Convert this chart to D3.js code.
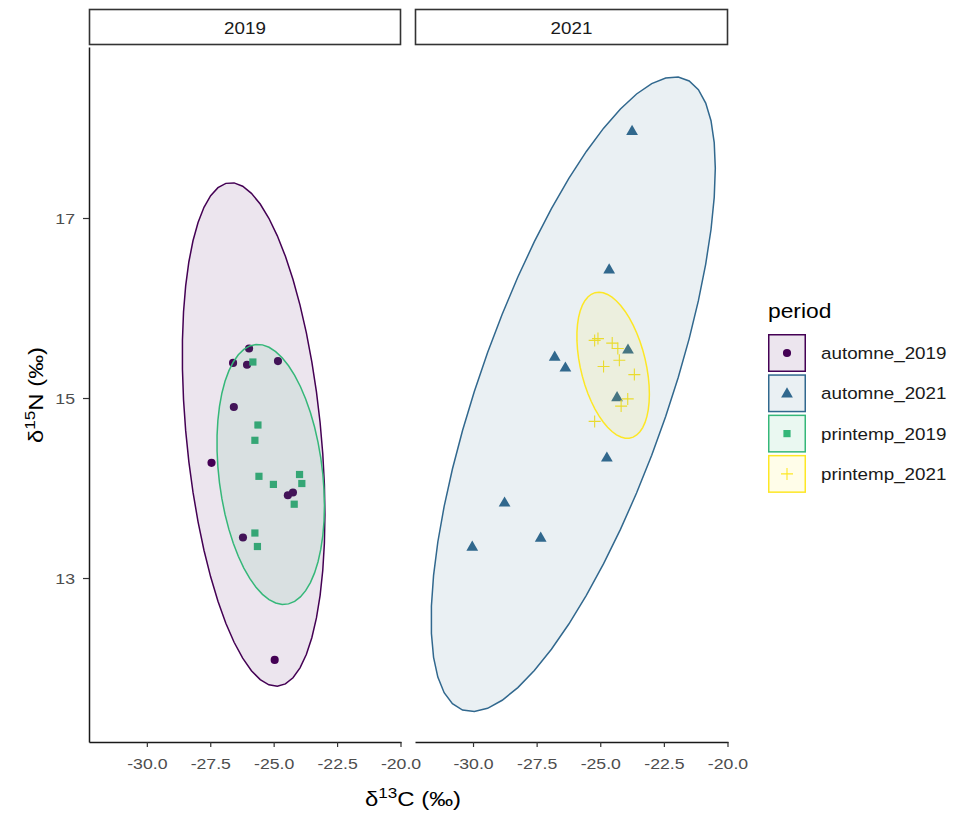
<!DOCTYPE html>
<html><head><meta charset="utf-8">
<script src="https://cdn.jsdelivr.net/npm/d3@7"></script>
<style>body{margin:0;background:#fff;} text{font-family:"Liberation Sans",Arial,sans-serif;}</style>
</head><body>
<svg id="chart" width="960" height="814"></svg>
<script>
// ---- data ----
const panels = ["2019", "2021"];
const periods = ["automne_2019", "automne_2021", "printemp_2019", "printemp_2021"];
const periodPanel = ["2019", "2021", "2019", "2021"];
const periodColors = ["#440154", "#31688E", "#35B779", "#FDE725"];
const xTicks = [-30, -27.5, -25, -22.5, -20];
const yTicks = [13, 15, 17];

const automne2019_d13C = [-25.97, -26.60, -26.05, -24.83, -26.57, -27.45, -24.44, -24.24, -26.21, -24.96];
const automne2019_d15N = [15.55, 15.39, 15.37, 15.41, 14.90, 14.28, 13.92, 13.95, 13.45, 12.09];
const printemp2019_d13C = [-25.82, -25.62, -25.74, -25.58, -25.01, -23.98, -23.89, -24.19, -25.74, -25.64];
const printemp2019_d15N = [15.40, 14.70, 14.53, 14.13, 14.04, 14.15, 14.05, 13.82, 13.50, 13.35];
const automne2021_d13C = [-23.75, -24.65, -26.79, -26.37, -23.91, -24.34, -24.74, -28.76, -27.34, -30.03];
const automne2021_d15N = [17.97, 16.43, 15.46, 15.34, 15.54, 15.01, 14.34, 13.84, 13.45, 13.35];
const printemp2021_d13C = [-25.22, -25.09, -24.53, -24.31, -24.25, -24.87, -23.66, -23.92, -24.18, -25.22];
const printemp2021_d15N = [15.64, 15.66, 15.61, 15.55, 15.42, 15.35, 15.26, 14.99, 14.91, 14.74];

const seriesX = [automne2019_d13C, automne2021_d13C, printemp2019_d13C, printemp2021_d13C];
const seriesY = [automne2019_d15N, automne2021_d15N, printemp2019_d15N, printemp2021_d15N];

// ---- stat_ellipse (type "t", level 0.95) ----
function covTrob(pts, nu = 5, maxit = 25, tol = 0.01) {
  const n = pts.length, p = 2;
  let loc = [d3.mean(pts, d => d[0]), d3.mean(pts, d => d[1])];
  let w = pts.map(() => 1);
  let X;
  for (let it = 0; it < maxit; it++) {
    const w0 = w.slice();
    X = pts.map(d => [d[0] - loc[0], d[1] - loc[1]]);
    const sw = d3.sum(w);
    let a = 0, b = 0, c = 0;
    X.forEach((v, i) => { a += w[i] * v[0] * v[0]; b += w[i] * v[0] * v[1]; c += w[i] * v[1] * v[1]; });
    a /= sw; b /= sw; c /= sw;
    const det = a * c - b * b;
    const Q = X.map(v => (c * v[0] * v[0] - 2 * b * v[0] * v[1] + a * v[1] * v[1]) / det);
    w = Q.map(q => (nu + p) / (nu + q));
    const sw2 = d3.sum(w);
    loc = [d3.sum(pts, (d, i) => w[i] * d[0]) / sw2, d3.sum(pts, (d, i) => w[i] * d[1]) / sw2];
    if (w.every((v, i) => Math.abs(v - w0[i]) < tol)) break;
  }
  let a = 0, b = 0, c = 0;
  X.forEach((v, i) => { a += w[i] * v[0] * v[0]; b += w[i] * v[0] * v[1]; c += w[i] * v[1] * v[1]; });
  return { center: loc, cov: [a / n, b / n, c / n] };
}
function ellipsePts(pts, level = 0.95, segments = 51) {
  const { center, cov } = covTrob(pts);
  const dfd = pts.length - 1;
  const qf = (dfd / 2) * (Math.pow(1 - level, -2 / dfd) - 1);
  const radius = Math.sqrt(2 * qf);
  const r11 = Math.sqrt(cov[0]), r12 = cov[1] / r11, r22 = Math.sqrt(cov[2] - r12 * r12);
  const out = [];
  for (let i = 0; i <= segments; i++) {
    const t = i * 2 * Math.PI / segments, cs = Math.cos(t), sn = Math.sin(t);
    out.push([center[0] + radius * cs * r11, center[1] + radius * (cs * r12 + sn * r22)]);
  }
  return out;
}

// ---- layout ----
const SX = 1.14; // horizontal text stretch
const svg = d3.select("#chart");
const panelX = { "2019": [89, 401], "2021": [415, 728] };
const plotTop = 47, plotBottom = 742;
const xDomain = [-32.28, -19.98], yDomain = [11.178, 18.9];
const y = d3.scaleLinear().domain(yDomain).range([plotBottom, plotTop]);

function addText(parent, px, py, size, anchor, str, fill, rot) {
  return parent.append("text")
    .attr("transform", `translate(${px},${py})${rot ? ` rotate(${rot})` : ""} scale(${SX},1)`)
    .attr("text-anchor", anchor).attr("font-size", size).attr("fill", fill).text(str);
}

const symGen = {
  automne_2019: d3.symbol().type(d3.symbolCircle).size(52),
  automne_2021: d3.symbol().type(d3.symbolTriangle).size(60),
  printemp_2019: d3.symbol().type(d3.symbolSquare).size(52)
};
function drawShape(g, per, col) {
  if (per === "printemp_2021") {
    g.append("path").attr("d", "M-6,0H6M0,-6V6").attr("stroke", col).attr("stroke-width", 1.1).attr("fill", "none");
  } else {
    g.append("path").attr("d", symGen[per]()).attr("fill", col)
      .attr("transform", per === "automne_2021" ? "translate(0,0.8)" : null);
  }
}

panels.forEach(pan => {
  const [x0, x1] = panelX[pan];
  const x = d3.scaleLinear().domain(xDomain).range([x0, x1]);
  // strip
  svg.append("rect").attr("x", x0 + 0.5).attr("y", 9.5).attr("width", x1 - x0 - 1).attr("height", 35)
    .attr("fill", "#fff").attr("stroke", "#333").attr("stroke-width", 1.6);
  addText(svg, (x0 + x1) / 2, 34, 16.5, "middle", pan, "#1a1a1a");
  const gp = svg.append("g");
  // points
  periods.forEach((per, k) => {
    if (periodPanel[k] !== pan) return;
    seriesX[k].forEach((xv, i) => {
      const g = gp.append("g").attr("transform", `translate(${x(xv)},${y(seriesY[k][i])})`);
      drawShape(g, per, periodColors[k]);
    });
  });
  // ellipses
  periods.forEach((per, k) => {
    if (periodPanel[k] !== pan) return;
    const pts = seriesX[k].map((v, i) => [v, seriesY[k][i]]);
    const ell = ellipsePts(pts);
    gp.append("path").attr("d", d3.line().x(d => x(d[0])).y(d => y(d[1])).curve(d3.curveLinearClosed)(ell.slice(0, -1)))
      .attr("fill", periodColors[k]).attr("fill-opacity", 0.1)
      .attr("stroke", periodColors[k]).attr("stroke-width", 1.5);
  });
  // x axis
  const ax = svg.append("g").attr("transform", `translate(0,${plotBottom})`)
    .call(d3.axisBottom(x).tickValues(xTicks).tickSize(5).tickSizeOuter(0));
  ax.select(".domain").attr("stroke", "#1a1a1a").attr("stroke-width", 1.5);
  ax.selectAll(".tick line").attr("stroke", "#333").attr("stroke-width", 1.2);
  ax.selectAll(".tick text").remove();
  ax.selectAll(".tick").each(function (d) {
    addText(d3.select(this), 0, 27, 15.5, "middle", d3.format(".1f")(d).replace("−", "-"), "#4d4d4d");
  });
});

// y axis (left panel only)
const ay = svg.append("g").attr("transform", `translate(89,0)`)
  .call(d3.axisLeft(y).tickValues(yTicks).tickSize(6).tickSizeOuter(0));
ay.select(".domain").attr("stroke", "#1a1a1a").attr("stroke-width", 1.5);
ay.selectAll(".tick line").attr("stroke", "#333").attr("stroke-width", 1.2);
ay.selectAll(".tick text").remove();
ay.selectAll(".tick").each(function (d) {
  addText(d3.select(this), -14, 5.5, 15.5, "end", String(d), "#4d4d4d");
});

// axis titles
const xt = addText(svg, 413, 806, 21, "middle", "", "#000");
xt.append("tspan").text("δ");
xt.append("tspan").attr("font-size", 15).attr("dy", -8).text("13");
xt.append("tspan").attr("dy", 8).text("C (‰)");
const yt = addText(svg, 43, 395, 21, "middle", "", "#000", -90);
yt.append("tspan").text("δ");
yt.append("tspan").attr("font-size", 15).attr("dy", -8).text("15");
yt.append("tspan").attr("dy", 8).text("N (‰)");

// legend
const lg = svg.append("g").attr("transform", "translate(768,0)");
addText(lg, 0, 318, 20, "start", "period", "#000");
periods.forEach((per, k) => {
  const yy = 334 + k * 40.3;
  lg.append("rect").attr("x", 0.75).attr("y", yy + 0.75).attr("width", 36.5).attr("height", 36.5)
    .attr("fill", periodColors[k]).attr("fill-opacity", 0.1).attr("stroke", periodColors[k]).attr("stroke-width", 1.5);
  const g = lg.append("g").attr("transform", `translate(19,${yy + 19})`);
  drawShape(g, per, periodColors[k]);
  addText(lg, 53, yy + 25, 16.5, "start", per, "#1a1a1a");
});
</script>
</body></html>
